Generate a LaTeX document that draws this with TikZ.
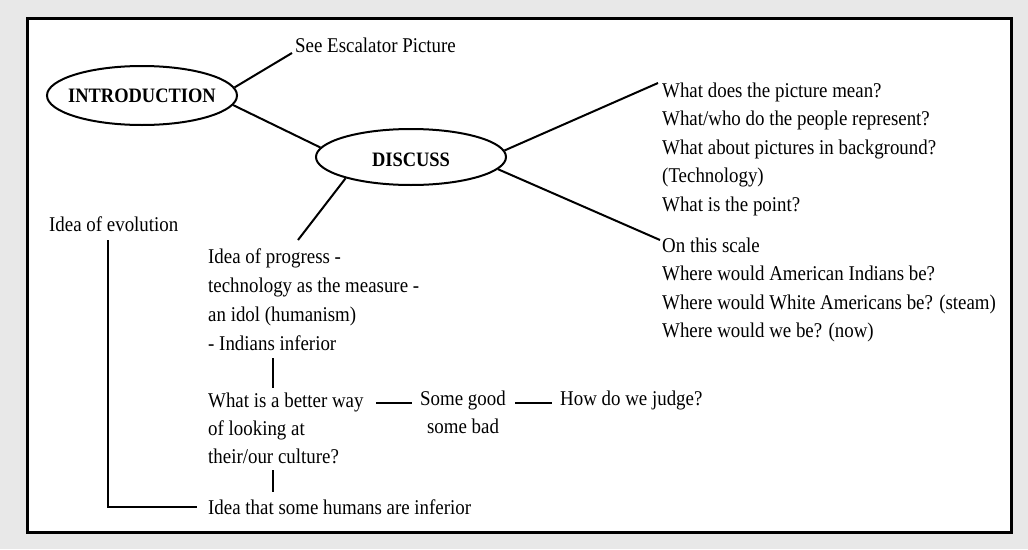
\documentclass[tikz,border=0pt]{standalone}
\usepackage{fontspec}
\setmainfont[FakeStretch=0.9]{Liberation Serif}
\usetikzlibrary{shapes.geometric}
\definecolor{bggray}{RGB}{232,232,232}
\begin{document}
\begin{tikzpicture}[x=1pt,y=-1pt,
  bubble/.style={ellipse,draw,line width=2pt,inner sep=0pt},
  headtxt/.style={font=\fontsize{20.5}{22}\selectfont\bfseries,inner sep=0pt},
  txt/.style={font=\fontsize{21}{28.5}\selectfont,inner sep=0pt,anchor=base west,align=left},
  conn/.style={line width=2pt}]
\useasboundingbox (0,0) rectangle (1028,549);
\fill[bggray] (0,0) rectangle (1028,549);
\draw[line width=3pt,fill=white] (27.5,18.5) rectangle (1011.5,532.5);

% main bubbles
\node[bubble,minimum width=190pt,minimum height=59pt] (intro) at (142,95.5) {};
\node[headtxt] (introtxt) at (142,96) {INTRODUCTION};
\node[bubble,minimum width=190pt,minimum height=56pt] (disc) at (411,157) {};
\node[headtxt] (disctxt) at (411,160) {DISCUSS};

% texts (multi-line nodes are placed at the baseline of their last line)
\node[txt] (see) at (295,52) {See Escalator Picture};
\node[txt] (qs) at (662,211) {What does the picture mean?\\What/who do the people represent?\\What about pictures in background?\\(Technology)\\What is the point?};
\node[txt] (scale) at (662,337.5) {On this scale\\Where would American Indians be?\\Where would White Americans be? (steam)\\Where would we be? (now)};
\node[txt] (evo) at (49,231) {Idea of evolution};
\node[txt,font=\fontsize{21}{29}\selectfont] (prog) at (208,350) {Idea of progress -\\technology as the measure -\\an idol (humanism)\\- Indians inferior};
\node[txt,font=\fontsize{21}{28}\selectfont] (better) at (208,463) {What is a better way\\of looking at\\their/our culture?};
\node[txt,align=center,font=\fontsize{21}{28}\selectfont] (good) at (420,433) {Some good\\some bad};
\node[txt] (judge) at (560,405) {How do we judge?};
\node[txt] (hum) at (208,514) {Idea that some humans are inferior};

% connectors
\draw[conn] (intro.5.6) -- ([shift={(-3pt,-1pt)}]see.base west);
\draw[conn] (intro.-6.9) -- (disc.174.2);
\draw[conn] (disc.198.4) -- ([shift={(90pt,110pt)}]prog.base west);
\draw[conn] (disc.4.4) -- ([shift={(-4pt,128pt)}]qs.base west);
\draw[conn] (disc.-8.1) -- ([shift={(-2pt,97.5pt)}]scale.base west);
\draw[conn] ([shift={(59pt,-9pt)}]evo.base west) |- ([shift={(-11pt,7pt)}]hum.base west);
\draw[conn] ([shift={(65pt,-8pt)}]prog.base west) -- ([shift={(65pt,75pt)}]better.base west);
\draw[conn] ([shift={(65pt,-7pt)}]better.base west) -- ([shift={(65pt,22pt)}]hum.base west);
\draw[conn] ([shift={(168pt,60pt)}]better.base west) -- ([shift={(-8pt,30pt)}]good.base west);
\draw[conn] ([shift={(95pt,30pt)}]good.base west) -- ([shift={(-8pt,2pt)}]judge.base west);
\end{tikzpicture}
\end{document}
